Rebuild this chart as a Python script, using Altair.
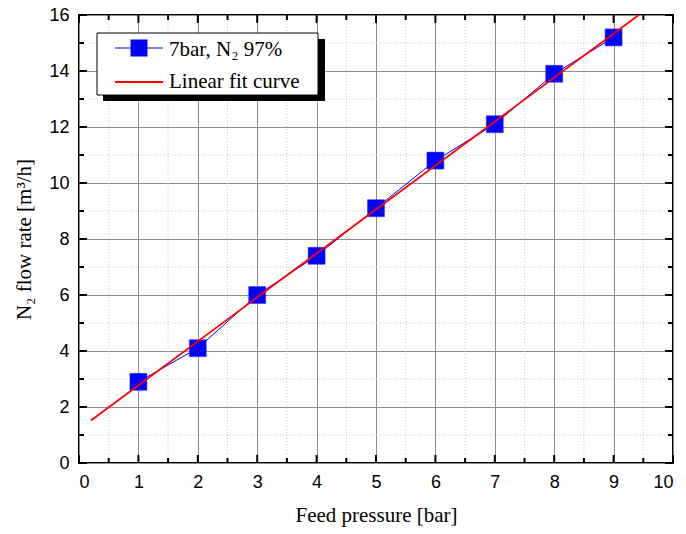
import altair as alt
import numpy as np
import pandas as pd

# Measured N2 flow rate against feed pressure (7 bar, 97 % N2)
pressure = [1, 2, 3, 4, 5, 6, 7, 8, 9]
flow = [2.9, 4.1, 6.0, 7.4, 9.1, 10.8, 12.1, 13.9, 15.2]

# Tick positions
x_major = list(range(0, 11))
x_minor = [v + 0.5 for v in range(0, 10)]
y_major = list(range(0, 17, 2))
y_minor = list(range(1, 16, 2))

W, H = 594, 448

# Least-squares fit of the measurements
slope, intercept = np.polyfit(pressure, flow, 1)
fit_x = [0.2, 10.0]
fit_df = pd.DataFrame({"p": fit_x, "f": [slope * v + intercept for v in fit_x]})
meas_df = pd.DataFrame({"p": pressure, "f": flow})

xscale = alt.Scale(domain=[0, 10], nice=False, zero=False)
yscale = alt.Scale(domain=[0, 16], nice=False, zero=False)

xaxis = alt.Axis(values=x_major, grid=True, title="Feed pressure [bar]", format="d")
yaxis = alt.Axis(values=y_major, grid=True, title="N₂ flow rate [m³/h]", format="d")

X = alt.X("p:Q", scale=xscale, axis=xaxis)
Y = alt.Y("f:Q", scale=yscale, axis=yaxis)

# Dotted minor grid
vminor = alt.Chart(pd.DataFrame({"p": x_minor})).mark_rule(
    color="#c4c4c4", strokeDash=[1, 2], strokeWidth=1
).encode(x=X, y=alt.value(0), y2=alt.value(H))
hminor = alt.Chart(pd.DataFrame({"f": y_minor})).mark_rule(
    color="#c4c4c4", strokeDash=[1, 2], strokeWidth=1
).encode(y=Y, x=alt.value(0), x2=alt.value(W))

# Measurements: thin connecting line with square markers
meas_line = alt.Chart(meas_df).mark_line(color="#0000ff", strokeWidth=1).encode(x=X, y=Y)
meas_pts = alt.Chart(meas_df).mark_point(
    shape="square", filled=True, size=289, color="#0000ff", opacity=1,
    stroke="#3333ff", strokeWidth=0.5
).encode(x=X, y=Y)

# Linear fit
fit_line = alt.Chart(fit_df).mark_line(color="#ff0000", strokeWidth=1.8, clip=True).encode(x=X, y=Y)

# Inward ticks on all four sides
def xticks(vals, length):
    d = pd.DataFrame({"p": vals})
    bottom = alt.Chart(d).mark_rule(color="black", strokeWidth=2).encode(
        x=X, y=alt.value(H), y2=alt.value(H - length))
    top = alt.Chart(d).mark_rule(color="black", strokeWidth=2).encode(
        x=X, y=alt.value(0), y2=alt.value(length))
    return [bottom, top]

def yticks(vals, length):
    d = pd.DataFrame({"f": vals})
    left = alt.Chart(d).mark_rule(color="black", strokeWidth=2).encode(
        y=Y, x=alt.value(0), x2=alt.value(length))
    right = alt.Chart(d).mark_rule(color="black", strokeWidth=2).encode(
        y=Y, x=alt.value(W), x2=alt.value(W - length))
    return [left, right]

ticks = xticks(x_major, 8) + xticks(x_minor, 5) + yticks(y_major, 8) + yticks(y_minor, 5)

# Legend box with drop shadow
one = pd.DataFrame({"k": [0]})
lx0, ly0, lx1, ly1 = 18, 18, 239, 80
shadow = alt.Chart(one).mark_rect(color="black").encode(
    x=alt.value(lx0 + 6), x2=alt.value(lx1 + 7), y=alt.value(ly0 + 6), y2=alt.value(ly1 + 6))
box = alt.Chart(one).mark_rect(fill="white", stroke="black", strokeWidth=1).encode(
    x=alt.value(lx0), x2=alt.value(lx1), y=alt.value(ly0), y2=alt.value(ly1))
leg_blue = alt.Chart(one).mark_rule(color="#0000ff", strokeWidth=1).encode(
    x=alt.value(36), x2=alt.value(84), y=alt.value(33))
leg_sq = alt.Chart(one).mark_point(
    shape="square", filled=True, size=289, color="#0000ff", opacity=1).encode(
    x=alt.value(60), y=alt.value(33))
leg_red = alt.Chart(one).mark_rule(color="#ff0000", strokeWidth=1.8).encode(
    x=alt.value(36), x2=alt.value(84), y=alt.value(67))
leg_t1 = alt.Chart(one).mark_text(
    align="left", baseline="alphabetic", font="Liberation Serif", fontSize=21, color="black"
).encode(x=alt.value(90), y=alt.value(41), text=alt.value("7bar, N₂ 97%"))
leg_t2 = alt.Chart(one).mark_text(
    align="left", baseline="alphabetic", font="Liberation Serif", fontSize=21, color="black"
).encode(x=alt.value(90), y=alt.value(73), text=alt.value("Linear fit curve"))

chart = alt.layer(
    vminor, hminor, meas_line, meas_pts, fit_line, *ticks,
    shadow, box, leg_blue, leg_sq, leg_red, leg_t1, leg_t2
).properties(
    width=W, height=H,
    padding={"left": 79, "top": 15, "right": 13, "bottom": 71},
    autosize=alt.AutoSizeParams(type="none"),
).configure_view(
    stroke="black", strokeWidth=2
).configure_axis(
    domain=False, ticks=False,
    gridColor="#8c8c8c", gridWidth=1, gridOpacity=1,
    labelFont="Liberation Sans", labelFontSize=18, labelColor="black",
    titleFont="Liberation Serif", titleFontSize=21, titleFontWeight="normal", titleColor="black",
).configure_axisX(
    labelPadding=10, titlePadding=13,
).configure_axisY(
    labelPadding=10, titlePadding=14,
)

chart.save("out.html", embed_options={"renderer": "svg", "actions": False})
